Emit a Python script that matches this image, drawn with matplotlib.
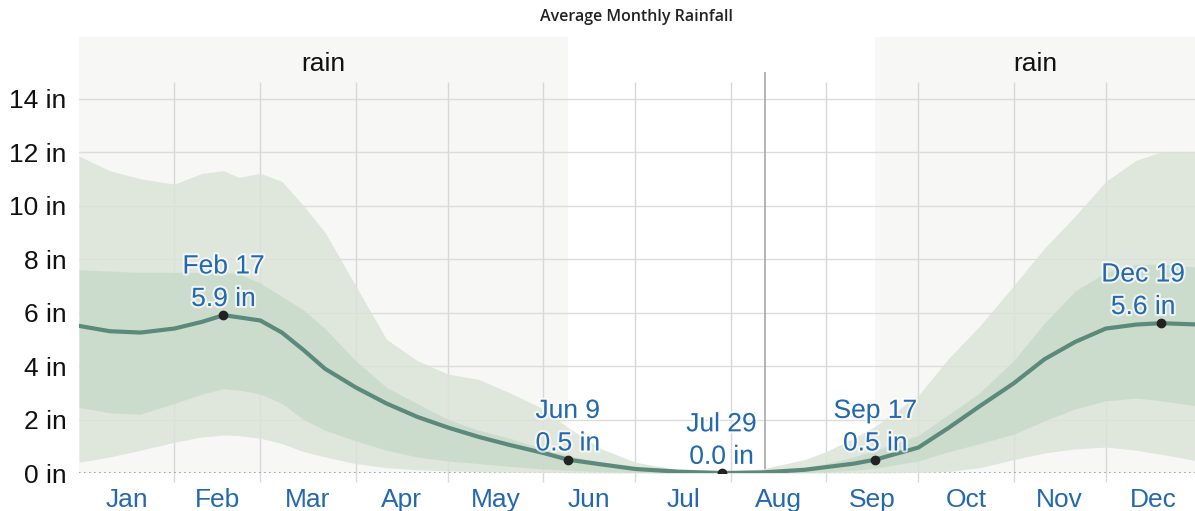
import matplotlib
matplotlib.use("Agg")
import matplotlib.pyplot as plt
import matplotlib.patheffects as pe

# ---------------- data (day of year, inches) ----------------
days = [0, 10, 20, 31, 40, 47, 52, 59, 66, 73, 80, 90, 100, 110, 120, 130, 140,
        151, 159, 170, 181, 195, 209, 222, 236, 243, 252, 259, 273, 283, 293,
        304, 314, 324, 334, 344, 352, 364]
median = [5.5, 5.3, 5.25, 5.4, 5.65, 5.9, 5.82, 5.7, 5.25, 4.6, 3.9, 3.2, 2.6,
          2.1, 1.7, 1.35, 1.05, 0.75, 0.5, 0.32, 0.15, 0.05, 0.0, 0.02, 0.12,
          0.22, 0.35, 0.5, 0.95, 1.7, 2.5, 3.35, 4.25, 4.9, 5.4, 5.55, 5.6, 5.55]
p90 = [11.85, 11.3, 11.0, 10.8, 11.2, 11.3, 11.05, 11.2, 10.9, 10.0, 9.0, 7.0,
       5.0, 4.2, 3.7, 3.5, 3.0, 2.4, 1.7, 0.9, 0.4, 0.12, 0.05, 0.15, 0.5,
       0.8, 1.3, 1.75, 2.9, 4.3, 5.5, 7.0, 8.4, 9.6, 10.9, 11.7, 12.0, 12.0]
p75 = [7.6, 7.55, 7.5, 7.5, 7.5, 7.5, 7.45, 7.1, 6.6, 6.1, 5.4, 4.2, 3.2, 2.6,
       2.0, 1.6, 1.3, 0.9, 0.65, 0.4, 0.2, 0.06, 0.02, 0.04, 0.2, 0.35, 0.6,
       0.85, 1.4, 2.2, 3.0, 4.2, 5.6, 6.8, 7.5, 7.8, 7.8, 7.7]
p25 = [2.45, 2.25, 2.2, 2.6, 2.95, 3.15, 3.1, 2.95, 2.6, 2.0, 1.6, 1.2, 0.85,
       0.6, 0.45, 0.35, 0.25, 0.15, 0.1, 0.05, 0.02, 0.0, 0.0, 0.0, 0.02, 0.04,
       0.1, 0.18, 0.45, 0.8, 1.1, 1.45, 1.95, 2.4, 2.7, 2.8, 2.7, 2.5]
p10 = [0.4, 0.6, 0.85, 1.15, 1.35, 1.42, 1.4, 1.3, 1.1, 0.8, 0.6, 0.35, 0.2,
       0.12, 0.08, 0.05, 0.03, 0.02, 0.01, 0.0, 0.0, 0.0, 0.0, 0.0, 0.0, 0.0,
       0.0, 0.0, 0.02, 0.06, 0.2, 0.5, 0.75, 0.9, 0.97, 0.85, 0.7, 0.45]

month_names = ["Jan", "Feb", "Mar", "Apr", "May", "Jun",
               "Jul", "Aug", "Sep", "Oct", "Nov", "Dec"]
month_starts = [0, 31, 59, 90, 120, 151, 181, 212, 243, 273, 304, 334, 365]

ann_days = [47, 159, 209, 259, 352]
ann_dates = ["Feb 17", "Jun 9", "Jul 29", "Sep 17", "Dec 19"]
ann_vals = [5.9, 0.5, 0.0, 0.5, 5.6]
ann_shift = [0, 0, 0, 0, -13]   # horizontal label offset in points

wet_spans = [(0, 159), (259, 365)]
wet_label = "rain"
yticks = [0, 2, 4, 6, 8, 10, 12, 14]
title = "Average Monthly Rainfall"
scan_line_day = 223

# ---------------- figure ----------------
W, H = 1195, 511
fig = plt.figure(figsize=(W / 100, H / 100), dpi=100)
ax = fig.add_axes([79 / W, (H - 473) / H, (W - 79) / W, (473 - 37) / H])
ax.set_xlim(0, 363)
ax.set_ylim(0, 436 / 26.75)
for s in ax.spines.values():
    s.set_visible(False)

font = "Liberation Sans"
blue = "#2468b0"

# wet season background
for a, b in wet_spans:
    ax.axvspan(a, b, color="#f7f7f6", zorder=0, lw=0)
    ax.text((a + min(b, 363)) / 2, 15.3, wet_label, ha="center", va="center",
            fontsize=19, family=font, color="#111111", zorder=5)

# grid
for y in yticks[1:]:
    ax.axhline(y, color="#dcdcdc", lw=1, zorder=1)
ax.vlines(month_starts[1:-1], -0.35, 14.6, color="#d8d8d8", lw=1, zorder=1,
          clip_on=False)
ax.vlines([scan_line_day], -0.1, 15.0, color="#a8a8a8", lw=1.2, zorder=1)
ax.axhline(0, color="#8a9aaa", lw=1.2, ls=(0, (1, 2)), zorder=2)

# bands
ax.fill_between(days, p10, p90, color="#dbe3d8", alpha=0.85, lw=0, zorder=2)
ax.fill_between(days, p25, p75, color="#c5d8c6", alpha=0.7, lw=0, zorder=3)
ax.plot(days, median, color="#5b8a7c", lw=3, zorder=4, solid_capstyle="round")

# annotations
for d, lab, v, dx in zip(ann_days, ann_dates, ann_vals, ann_shift):
    ax.plot([d], [v], "o", color="#222222", ms=6, zorder=6)
    t = ax.annotate(f"{lab}\n{v:.1f} in", (d, v), xytext=(dx, 3),
                    textcoords="offset points", ha="center", va="bottom",
                    fontsize=19, family=font, color=blue, linespacing=1.45,
                    zorder=7)
    t.set_path_effects([pe.withStroke(linewidth=3, foreground="white", alpha=0.7)])

# ticks
ax.set_yticks(yticks)
ax.set_yticklabels([f"{v} in" for v in yticks], fontsize=19, family=font,
                   color="#111111")
mids = [(month_starts[i] + month_starts[i + 1]) / 2 for i in range(12)]
ax.set_xticks(mids)
ax.set_xticklabels(month_names, fontsize=19, family=font, color=blue)
ax.tick_params(axis="both", length=0)
ax.tick_params(axis="y", pad=9)
ax.tick_params(axis="x", pad=11)

fig.text(637 / W, 1 - 17 / H, title, ha="center", va="center", fontsize=11.5,
         family="Open Sans", fontweight="semibold", color="#222222")

fig.savefig("out.png", dpi=100)
